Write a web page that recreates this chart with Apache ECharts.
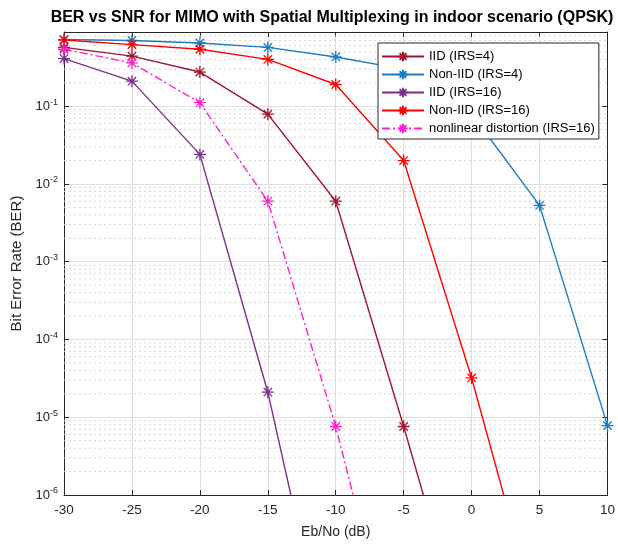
<!DOCTYPE html>
<html>
<head>
<meta charset="utf-8">
<title>BER vs SNR</title>
<script src="https://cdn.jsdelivr.net/npm/echarts@6/dist/echarts.min.js"></script>
<style>
  html, body { margin: 0; padding: 0; background: #fff; }
  #chart { width: 618px; height: 545px; }
</style>
</head>
<body>
<div id="chart"></div>
<script>
// Eb/No (dB) points
var snr = [-30, -25, -20, -15, -10, -5, 0, 5, 10];
// BER per scenario
var iid4 = [0.57, 0.44, 0.275, 0.079, 6.0e-3, 7.6e-6, 7e-9, null, null];
var nonIid4 = [0.72, 0.70, 0.65, 0.57, 0.43, 0.30, 0.08, 5.3e-3, 7.8e-6];
var iid16 = [0.41, 0.21, 0.024, 2.1e-5, 2.7e-9, null, null, null, null];
var nonIid16 = [0.71, 0.62, 0.54, 0.40, 0.19, 0.020, 3.2e-5, 2.1e-8, null];
var nonlin16 = [0.54, 0.36, 0.111, 6.0e-3, 7.6e-6, 2.7e-9, null, null, null];
var names = ['IID (IRS=4)', 'Non-IID (IRS=4)', 'IID (IRS=16)', 'Non-IID (IRS=16)', 'nonlinear distortion (IRS=16)'];

var colors = ['#A2142F', '#1a7dc4', '#7E2F8E', '#FF0000', '#ff1fcf'];
var star = 'path://M0 10L20 10M10 0L10 20M3 3L17 17M17 3L3 17';
var font = 'Liberation Sans, Arial, Helvetica, sans-serif';
var axisColor = '#262626';

function pairs(ys) {
    return snr.map(function(x, i) {
        return [x, ys[i]];
    });
}

// minor grid lines of the log axis (2..9 of each decade), drawn as one broken line
var minorGrid = [];
for (var d = -6; d < 0; d++) {
    for (var k = 2; k <= 9; k++) {
        var v = k * Math.pow(10, d);
        if (v < 0.9) {
            minorGrid.push([-30, v], [10, v], [10, null]);
        }
    }
}

function makeSeries(name, ys, color, dashed) {
    return {
        name: name,
        type: 'line',
        data: pairs(ys),
        connectNulls: false,
        symbol: star,
        symbolSize: 12,
        showSymbol: true,
        clip: true,
        lineStyle: {color: color, width: 1.4, type: dashed ? [8, 3, 2, 3] : 'solid'},
        itemStyle: {color: color, borderColor: color, borderWidth: 1.3},
        z: 3
    };
}

var series = [{
    name: 'minor',
    type: 'line',
    data: minorGrid,
    connectNulls: false,
    symbol: 'none',
    silent: true,
    lineStyle: {color: '#d6d6d6', width: 1, type: [2, 3]},
    z: 1
}];
series.push(
    makeSeries(names[0], iid4, colors[0]),
    makeSeries(names[1], nonIid4, colors[1]),
    makeSeries(names[2], iid16, colors[2]),
    makeSeries(names[3], nonIid16, colors[3]),
    makeSeries(names[4], nonlin16, colors[4], true)
);

var chart = echarts.init(document.getElementById('chart'));
chart.setOption({
    animation: false,
    backgroundColor: '#fff',
    title: {
        text: 'BER vs SNR for MIMO with Spatial Multiplexing in indoor scenario (QPSK)',
        left: 327,
        textAlign: 'center',
        top: 5,
        textStyle: {fontFamily: font, fontSize: 16, fontWeight: 'bold', color: '#000'}
    },
    grid: {left: 64, right: 6, top: 32, bottom: 50},
    legend: {
        data: names,
        orient: 'vertical',
        left: 378,
        top: 43,
        itemWidth: 42,
        itemHeight: 12,
        itemGap: 5,
        padding: [7, 4, 4, 3],
        backgroundColor: '#fff',
        borderColor: axisColor,
        borderWidth: 1,
        textStyle: {fontFamily: font, fontSize: 13, color: '#000'}
    },
    xAxis: [{
        type: 'value',
        min: -30,
        max: 10,
        interval: 5,
        position: 'bottom',
        name: 'Eb/No (dB)',
        nameLocation: 'middle',
        nameGap: 30,
        nameTextStyle: {fontFamily: font, fontSize: 14, color: axisColor},
        axisLine: {onZero: false, lineStyle: {color: axisColor, width: 1}},
        axisTick: {inside: true, length: 5, lineStyle: {color: axisColor}},
        axisLabel: {fontFamily: font, fontSize: 13.5, color: axisColor, margin: 8},
        splitLine: {show: true, lineStyle: {color: '#dfdfdf', width: 1}}
    }, {
        type: 'value',
        min: -30,
        max: 10,
        interval: 5,
        position: 'top',
        axisLine: {onZero: false, lineStyle: {color: axisColor, width: 1}},
        axisTick: {inside: true, length: 5, lineStyle: {color: axisColor}},
        axisLabel: {show: false},
        splitLine: {show: false}
    }],
    yAxis: [{
        type: 'log',
        logBase: 10,
        min: 1e-6,
        max: 0.9,
        position: 'left',
        name: 'Bit Error Rate (BER)',
        nameLocation: 'middle',
        nameGap: 39,
        nameTextStyle: {fontFamily: font, fontSize: 15, color: axisColor},
        axisLine: {show: true, onZero: false, lineStyle: {color: axisColor, width: 1}},
        axisTick: {inside: true, length: 5, lineStyle: {color: axisColor}},
        axisLabel: {
            margin: 6,
            formatter: function(v) {
                var lg = Math.log10(v);
                var e = Math.round(lg);
                if (Math.abs(lg - e) > 1e-6 || e >= 0) return '';
                return '{b|10}{s|' + e + '}';
            },
            rich: {
                b: {fontFamily: font, fontSize: 13, color: axisColor},
                s: {fontFamily: font, fontSize: 9, color: axisColor, padding: [0, 0, 8, 0]}
            }
        },
        splitLine: {show: true, lineStyle: {color: '#dfdfdf', width: 1}}
    }, {
        type: 'log',
        logBase: 10,
        min: 1e-6,
        max: 0.9,
        position: 'right',
        axisLine: {show: true, onZero: false, lineStyle: {color: axisColor, width: 1}},
        axisTick: {inside: true, length: 5, lineStyle: {color: axisColor}},
        axisLabel: {show: false},
        splitLine: {show: false}
    }],
    series: series
});
</script>
</body>
</html>
